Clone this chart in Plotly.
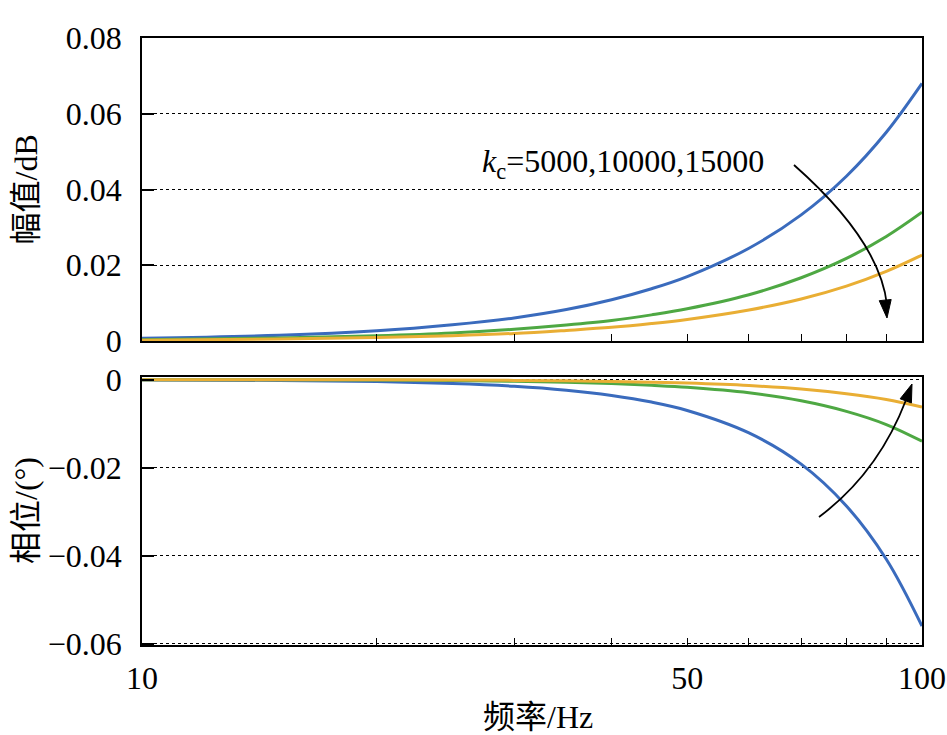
import math
import plotly.graph_objects as go

# ---------------- data ----------------
freq = [10, 15, 20, 25, 30, 35, 40, 45, 50, 60, 70, 80, 90, 100]

mag_5000 = [0.0007, 0.0015, 0.0027, 0.0043, 0.0061, 0.0083, 0.0109, 0.0138, 0.0170,
            0.0245, 0.0333, 0.0435, 0.0551, 0.0680]
mag_10000 = [0.00035, 0.00077, 0.00136, 0.0021, 0.0031, 0.0042, 0.0054, 0.0069, 0.0085,
             0.0122, 0.0167, 0.0218, 0.0276, 0.0340]
mag_15000 = [0.00023, 0.0005, 0.0009, 0.0014, 0.0020, 0.0028, 0.0036, 0.0046, 0.0057,
             0.0082, 0.0111, 0.0145, 0.0184, 0.0227]

ph_5000 = [-0.00006, -0.00019, -0.00045, -0.00088, -0.0015, -0.0024, -0.0036, -0.0051, -0.0070,
           -0.0121, -0.0192, -0.0287, -0.0408, -0.0560]
ph_10000 = [-0.00001, -0.00005, -0.00011, -0.00022, -0.00038, -0.0006, -0.0009, -0.0013, -0.00175,
            -0.0030, -0.0048, -0.0072, -0.0102, -0.0140]
ph_15000 = [-0.00001, -0.00002, -0.00005, -0.0001, -0.00017, -0.00027, -0.0004, -0.00057, -0.00078,
            -0.00134, -0.00213, -0.0032, -0.0045, -0.0062]

series_names = ["k<sub>c</sub>=5000", "k<sub>c</sub>=10000", "k<sub>c</sub>=15000"]
series_colors = ["#3a6bbd", "#4ea843", "#e9ae34"]

x_tickvals = [10, 50, 100]
x_ticktext = ["10", "50", "100"]
x_minorvals = [20, 30, 40, 60, 70, 80, 90]
mag_ticks = [0, 0.02, 0.04, 0.06, 0.08]
mag_ticktext = ["0", "0.02", "0.04", "0.06", "0.08"]
ph_ticks = [0, -0.02, -0.04, -0.06]
ph_ticktext = ["0", "\u22120.02", "\u22120.04", "\u22120.06"]
marker_freq = 50

# ---------------- layout geometry ----------------
W, H = 947, 735
ML, MR, MT, MB = 142, 25, 38, 90
PW, PH = W - ML - MR, H - MT - MB


def paper(px, py):
    return (px - ML) / PW, (H - MB - py) / PH


SERIF = "Liberation Serif"
FONT = "Liberation Serif, Noto Sans CJK SC, serif"
FS = 32

fig = go.Figure()
for vals, name, col in zip([mag_5000, mag_10000, mag_15000], series_names, series_colors):
    fig.add_trace(go.Scatter(x=freq, y=vals, mode="lines", name=name,
                             line=dict(color=col, width=3, shape="spline"),
                             xaxis="x", yaxis="y", showlegend=False))
for vals, name, col in zip([ph_5000, ph_10000, ph_15000], series_names, series_colors):
    fig.add_trace(go.Scatter(x=freq, y=vals, mode="lines", name=name,
                             line=dict(color=col, width=3, shape="spline"),
                             xaxis="x2", yaxis="y2", showlegend=False))

xcommon = dict(type="log", range=[1, 2], showline=True, linecolor="black", linewidth=1.5,
               mirror=True, ticks="inside", ticklen=7, tickwidth=1.2, tickcolor="black",
               tickmode="array", tickvals=x_tickvals, ticktext=x_ticktext,
               minor=dict(tickmode="array", tickvals=x_minorvals, ticks="inside",
                          ticklen=7, tickwidth=1.2, tickcolor="black", showgrid=False),
               showgrid=False, zeroline=False, automargin=False)
ycommon = dict(showline=True, linecolor="black", linewidth=1.5, mirror=True,
               ticks="inside", ticklen=12, tickwidth=1.5, tickcolor="black",
               showgrid=True, gridcolor="black", gridwidth=1, griddash="dot",
               zeroline=False, ticklabelstandoff=12, automargin=False,
               tickfont=dict(family=SERIF, size=FS, color="black"))

top_lo = paper(0, 341)[1]
bot_hi = paper(0, 377)[1]

fig.update_layout(
    width=W, height=H,
    margin=dict(l=ML, r=MR, t=MT, b=MB, autoexpand=False),
    paper_bgcolor="white", plot_bgcolor="white",
    font=dict(family=FONT, size=FS, color="black"),
    xaxis=dict(**xcommon, domain=[0, 1], anchor="y", showticklabels=False),
    xaxis2=dict(**xcommon, domain=[0, 1], anchor="y2", matches="x",
                showticklabels=True, ticklabelstandoff=4,
                tickfont=dict(family=SERIF, size=FS, color="black")),
    yaxis=dict(**ycommon, domain=[top_lo, 1], range=[0, 0.08],
               tickvals=mag_ticks, ticktext=mag_ticktext),
    yaxis2=dict(**ycommon, domain=[0, bot_hi], range=[-0.0603, 0.0006],
                tickvals=ph_ticks, ticktext=ph_ticktext),
)

# vertical dashed marker line at 50 Hz spanning both panels
fig.add_shape(type="line", xref="x", yref="paper",
              x0=math.log10(marker_freq), x1=math.log10(marker_freq), y0=0, y1=1,
              line=dict(color="black", width=1.5, dash="12px,6px"))

# axis titles
tx, ty = paper(26, (38 + 341) / 2)
fig.add_annotation(text="幅值/dB", xref="paper", yref="paper", x=tx, y=ty,
                   textangle=-90, showarrow=False, xanchor="center", yanchor="middle",
                   font=dict(family=FONT, size=FS, color="black"))
tx, ty = paper(26, (377 + 645) / 2)
fig.add_annotation(text="相位/(°)", xref="paper", yref="paper", x=tx, y=ty,
                   textangle=-90, showarrow=False, xanchor="center", yanchor="middle",
                   font=dict(family=FONT, size=FS, color="black"))
tx, ty = paper(538, 717)
fig.add_annotation(text="频率/Hz", xref="paper", yref="paper", x=tx, y=ty,
                   showarrow=False, xanchor="center", yanchor="middle",
                   font=dict(family=FONT, size=FS, color="black"))

# kc label
tx, ty = paper(480, 163)
fig.add_annotation(text="<i>k</i><sub>c</sub>=5000,10000,15000", xref="paper", yref="paper",
                   x=tx, y=ty, showarrow=False, xanchor="left", yanchor="middle",
                   font=dict(family=FONT, size=FS, color="black"))


def qpath(p0, c, p1):
    a, b, d = paper(*p0), paper(*c), paper(*p1)
    return f"M {a[0]},{a[1]} Q {b[0]},{b[1]} {d[0]},{d[1]}"


def head(tip, frm, length=18, half=6):
    dx, dy = tip[0] - frm[0], tip[1] - frm[1]
    n = math.hypot(dx, dy)
    ux, uy = dx / n, dy / n
    bx, by = tip[0] - ux * length, tip[1] - uy * length
    p1 = (bx - uy * half, by + ux * half)
    p2 = (bx + uy * half, by - ux * half)
    a, b, c = paper(*tip), paper(*p1), paper(*p2)
    return f"M {a[0]},{a[1]} L {b[0]},{b[1]} L {c[0]},{c[1]} Z"


fig.add_shape(type="path", xref="paper", yref="paper",
              path=qpath((794, 165), (880, 241), (887, 305)),
              line=dict(color="black", width=1.8))
fig.add_shape(type="path", xref="paper", yref="paper",
              path=head((887, 318), (885, 298)),
              fillcolor="black", line=dict(color="black", width=1))

fig.add_shape(type="path", xref="paper", yref="paper",
              path=qpath((819, 517), (878, 473), (906, 400)),
              line=dict(color="black", width=1.8))
fig.add_shape(type="path", xref="paper", yref="paper",
              path=head((912, 384), (905, 403)),
              fillcolor="black", line=dict(color="black", width=1))

fig.write_html("out.html")
